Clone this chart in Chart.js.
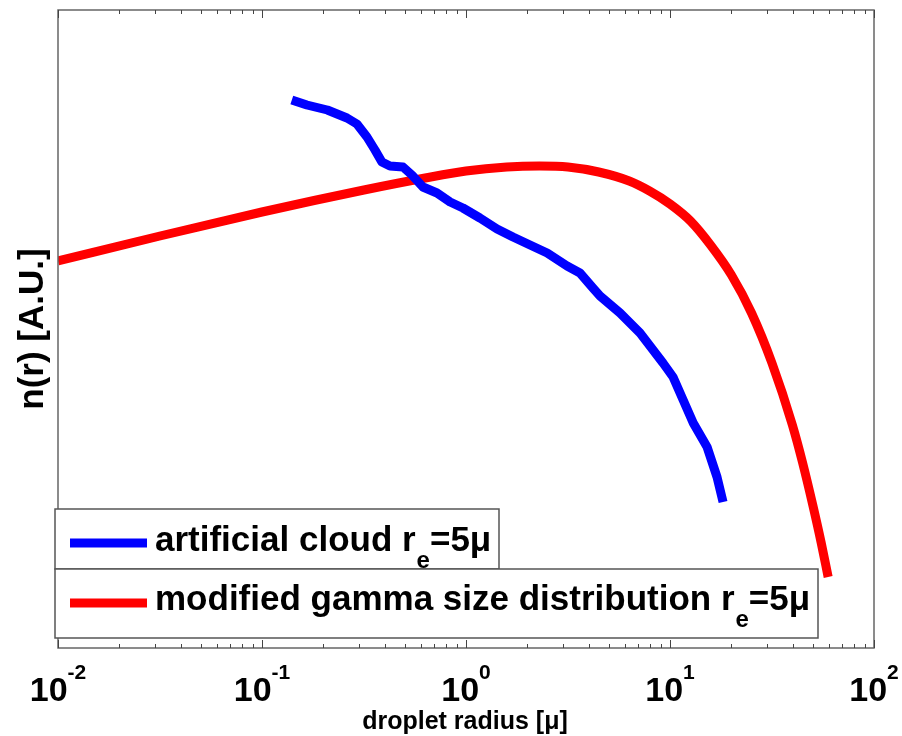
<!DOCTYPE html>
<html>
<head>
<meta charset="utf-8">
<script src="https://cdn.jsdelivr.net/npm/chart.js@4/dist/chart.umd.min.js"></script>
<style>
html,body{margin:0;padding:0;background:#fff;}
canvas{display:block;}
</style>
</head>
<body>
<canvas id="c" width="902" height="736"></canvas>
<script>
// ---- data ----
const blueX = [0.140,0.166,0.209,0.261,0.292,0.327,0.358,0.387,0.424,0.491,0.543,0.615,0.721,0.836,0.966,1.17,1.42,1.70,2.06,2.50,3.13,3.62,4.19,4.54,5.69,7.13,8.26,9.24,10.35,11.6,13.0,15.2,17.0,18.2];
const blueY = [548,543,538,530,524,511,498,486,482,481,473,461,455,446,440,430,419,411,403,395,382,375,360,352,335,315,298,285,271,248,225,201,171,146];
const redX = [0.01,0.0316,0.1,0.316,0.631,1,1.585,2.29,3.16,4.47,6.31,7.94,10,12.6,15.8,20.0,25.1,31.6,39.8,44.7,50.1,55.0,59.6];
const redY = [387,412,436,458,470,477,481,482,481,476,467,457,444,427,403,373,335,285,223,185,143,106,71];
const majorTicks = [0.01,0.1,1,10,100];
const tickExp = ["-2","-1","0","1","2"];
const minorMult = [2,3,4,5,6,7,8,9];
const xTitle = "droplet radius [\u03bc]";
const yTitle = "n(r) [A.U.]";
const legendItems = [
  {pre:"artificial cloud r", sub:"e", post:"=5\u03bc", color:"#0000ff"},
  {pre:"modified gamma size distribution r", sub:"e", post:"=5\u03bc", color:"#ff0000"}
];

const toPts = (xs, ys) => xs.map((x,i)=>({x:x, y:ys[i]}));
const FONT = '"Liberation Sans", Arial, Helvetica, sans-serif';

const decor = {
  id:'decor',
  afterDatasetsDraw(chart){
    const ctx = chart.ctx, a = chart.chartArea, xs = chart.scales.x;
    ctx.save();
    // frame
    ctx.strokeStyle = '#666';
    ctx.lineWidth = 1.5;
    ctx.strokeRect(a.left, a.top, a.right-a.left, a.bottom-a.top);
    // ticks
    ctx.strokeStyle = '#444';
    ctx.lineWidth = 1;
    const tick = (v, len) => {
      const px = Math.round(xs.getPixelForValue(v)) + 0.5;
      ctx.beginPath();
      ctx.moveTo(px, a.bottom); ctx.lineTo(px, a.bottom - len);
      ctx.moveTo(px, a.top); ctx.lineTo(px, a.top + len);
      ctx.stroke();
    };
    majorTicks.forEach((m,i)=>{
      tick(m, 8);
      if (i < majorTicks.length-1) minorMult.forEach(k=>tick(m*k, 4));
    });
    // tick labels
    ctx.fillStyle = '#000';
    ctx.textBaseline = 'alphabetic';
    majorTicks.forEach((m,i)=>{
      const px = xs.getPixelForValue(m);
      ctx.font = 'bold 34px ' + FONT;
      const w1 = ctx.measureText('10').width;
      ctx.font = 'bold 21px ' + FONT;
      const w2 = ctx.measureText(tickExp[i]).width;
      const x0 = px - (w1 + w2)/2;
      ctx.font = 'bold 34px ' + FONT;
      ctx.textAlign = 'left';
      ctx.fillText('10', x0, 701);
      ctx.font = 'bold 21px ' + FONT;
      ctx.fillText(tickExp[i], x0 + w1, 679);
    });
    // x title
    ctx.font = 'bold 25px ' + FONT;
    ctx.textAlign = 'center';
    ctx.fillText(xTitle, 465, 729);
    // y title
    ctx.save();
    ctx.translate(43, 329);
    ctx.rotate(-Math.PI/2);
    ctx.font = 'bold 35px ' + FONT;
    ctx.textAlign = 'center';
    ctx.fillText(yTitle, 0, 0);
    ctx.restore();
    // legend boxes
    const boxes = [
      {l:55, t:509, r:499, b:569, lineY:543, textY:551},
      {l:55, t:569, r:818, b:638, lineY:603, textY:610}
    ];
    boxes.forEach((bx, i)=>{
      const it = legendItems[i];
      ctx.fillStyle = '#fff';
      ctx.fillRect(bx.l, bx.t, bx.r-bx.l, bx.b-bx.t);
      ctx.strokeStyle = '#555';
      ctx.lineWidth = 1.5;
      ctx.strokeRect(bx.l, bx.t, bx.r-bx.l, bx.b-bx.t);
      ctx.strokeStyle = it.color;
      ctx.lineWidth = 9;
      ctx.beginPath();
      ctx.moveTo(70, bx.lineY); ctx.lineTo(147, bx.lineY);
      ctx.stroke();
      ctx.fillStyle = '#000';
      ctx.textAlign = 'left';
      let x = 155;
      ctx.font = 'bold 35px ' + FONT;
      ctx.fillText(it.pre, x, bx.textY);
      x += ctx.measureText(it.pre).width + 1;
      ctx.font = 'bold 24px ' + FONT;
      ctx.fillText(it.sub, x, bx.textY + 17);
      x += ctx.measureText(it.sub).width;
      ctx.font = 'bold 35px ' + FONT;
      ctx.fillText(it.post, x, bx.textY);
    });
    ctx.restore();
  }
};

new Chart(document.getElementById('c'), {
  type: 'line',
  data: {
    datasets: [
      {label:'artificial cloud', data: toPts(blueX, blueY), borderColor:'#0000ff', borderWidth:9, pointRadius:0, tension:0, borderJoinStyle:'round', fill:false},
      {label:'modified gamma', data: toPts(redX, redY), borderColor:'#ff0000', borderWidth:9, pointRadius:0, cubicInterpolationMode:'monotone', fill:false}
    ]
  },
  options: {
    responsive:false,
    animation:false,
    layout:{padding:{left:58, right:28, top:10, bottom:88}},
    plugins:{legend:{display:false}, tooltip:{enabled:false}},
    scales:{
      x:{type:'logarithmic', min:0.01, max:100, display:false},
      y:{type:'linear', min:0, max:638, display:false}
    }
  },
  plugins:[decor]
});
</script>
</body>
</html>
